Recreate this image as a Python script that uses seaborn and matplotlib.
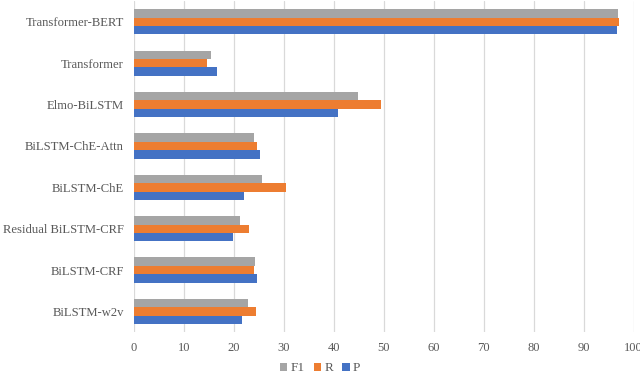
import pandas as pd
import matplotlib.pyplot as plt
import seaborn as sns

# Model names, top to bottom as in the chart
models = ['Transformer-BERT', 'Transformer', 'Elmo-BiLSTM', 'BiLSTM-ChE-Attn',
          'BiLSTM-ChE', 'Residual BiLSTM-CRF', 'BiLSTM-CRF', 'BiLSTM-w2v']
f1 = [96.8, 15.5, 44.9, 24.0, 25.7, 21.2, 24.3, 22.9]
r = [97.1, 14.7, 49.4, 24.7, 30.5, 23.0, 24.1, 24.4]
p = [96.6, 16.7, 40.9, 25.3, 22.1, 19.9, 24.7, 21.7]
metrics = ['F1', 'R', 'P']
colors = ['#A5A5A5', '#ED7D31', '#4472C4']

df = pd.DataFrame({'model': models * 3,
                   'metric': ['F1'] * 8 + ['R'] * 8 + ['P'] * 8,
                   'value': f1 + r + p})

sns.set_theme(style='white')
plt.rcParams['font.family'] = ['Liberation Serif', 'DejaVu Serif']
text_color = '#595959'

fig = plt.figure(figsize=(6.4, 3.73), dpi=100)
ax = fig.add_axes([0.209, 0.1094, 0.781, 0.8876])

sns.barplot(data=df, y='model', x='value', hue='metric', order=models,
            hue_order=metrics, palette=colors, orient='h', width=0.61,
            saturation=1, linewidth=0, ax=ax)

ax.set_xlim(0, 100)
ax.set_xticks(range(0, 101, 10))
ax.xaxis.grid(True, color='#D9D9D9', linewidth=0.9)
ax.set_axisbelow(True)
for s in ax.spines.values():
    s.set_visible(False)
ax.set_xlabel('')
ax.set_ylabel('')
ax.tick_params(axis='both', length=0, labelcolor=text_color)
ax.tick_params(axis='y', pad=7, labelsize=9.1)
ax.tick_params(axis='x', pad=7, labelsize=9)

ax.legend(loc='center', bbox_to_anchor=(0.373, -0.109), ncol=3, frameon=False,
          fontsize=9.5, handlelength=0.55, handleheight=0.55, handletextpad=0.25,
          columnspacing=0.7, labelcolor=text_color, borderpad=0)

fig.savefig('out.png', dpi=100)
